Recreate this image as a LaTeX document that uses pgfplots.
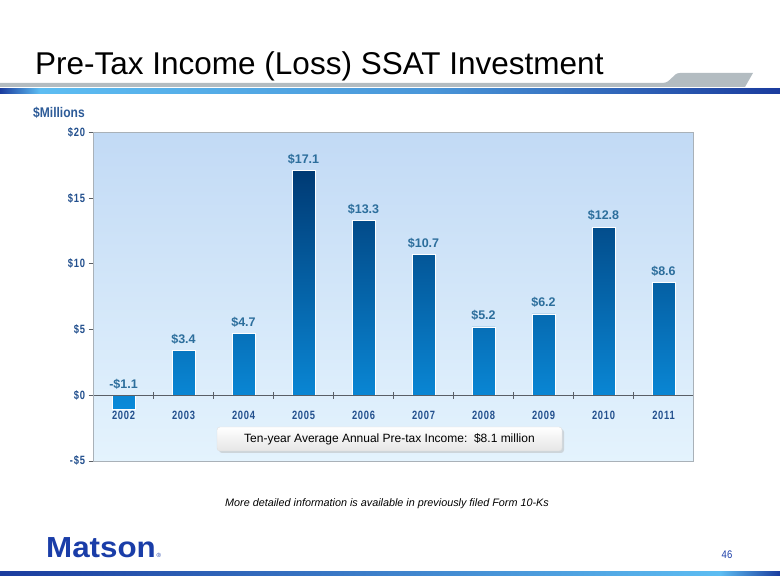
\documentclass[border=0pt]{standalone}
\usepackage{pgfplots}
\pgfplotsset{compat=1.18}
\usetikzlibrary{shadows}
\usepackage{fontspec}
\setmainfont{Liberation Sans}
\newfontfamily\narrowfont[FakeStretch=0.86]{Liberation Sans}
\newfontfamily\tickfont[FakeStretch=0.78, LetterSpace=6]{Liberation Sans}
\newfontfamily\logofont[FakeStretch=1.08]{Liberation Sans}

\definecolor{vallab}{HTML}{2C6E9C}
\definecolor{ticklab}{HTML}{23508E}
\definecolor{millions}{HTML}{2D5B98}
\definecolor{bgtop}{HTML}{C2DAF5}
\definecolor{bgbot}{HTML}{E4F3FD}
\definecolor{bartop}{HTML}{003A74}
\definecolor{barmid}{HTML}{03579B}
\definecolor{barbot}{HTML}{0A8BDA}
\definecolor{framegray}{HTML}{A9B1B8}
\definecolor{axisdark}{HTML}{5A5F66}
\definecolor{headgray}{HTML}{B3BCC1}
\definecolor{bluedark}{HTML}{1B3C9E}
\definecolor{bluelight}{HTML}{5DBDF2}
\definecolor{matsonblue}{HTML}{1A3DA8}

\begin{document}
\begin{tikzpicture}[x=1pt,y=1pt]
\useasboundingbox (0,0) rectangle (780,585);
\fill[white] (0,0) rectangle (780,585);

% header
\node[anchor=base west, inner sep=0pt, font=\fontsize{31.5}{36}\selectfont] at (35,510) {Pre-Tax Income (Loss) SSAT Investment};
\fill[headgray] (0,498) -- (0,502) -- (662,502) .. controls (672,502) and (672,512) .. (680,512) -- (753,512) -- (745,498) -- cycle;
\shade[left color=bluedark, right color=bluelight] (0,491) rectangle (40,496);
\shade[left color=bluelight, right color=bluelight!70!bluedark] (40,491) rectangle (430,496);
\shade[left color=bluelight!70!bluedark, right color=bluedark] (430,491) rectangle (780,496);

\node[anchor=west, inner sep=0pt, text=millions, font=\narrowfont\bfseries\fontsize{14}{16}\selectfont] at (33,472) {\$Millions};

\begin{axis}[
  at={(93.5pt,124pt)}, anchor=south west,
  scale only axis, width=600pt, height=328.5pt,
  xmin=-0.5, xmax=9.5, ymin=-5, ymax=20,
  clip=false, axis on top,
  axis background/.style={top color=bgtop, bottom color=bgbot},
  axis line style={draw=framegray, line width=0.8pt},
  xtick={0,...,9},
  xticklabels={2002,2003,2004,2005,2006,2007,2008,2009,2010,2011},
  xtick style={draw=none},
  xticklabel style={yshift=58pt, text=ticklab, font=\tickfont\bfseries\fontsize{12}{14}\selectfont},
  ytick={-5,0,5,10,15,20},
  yticklabels={-\$5,\$0,\$5,\$10,\$15,\$20},
  ytick pos=left, tick align=outside, major tick length=5pt,
  ytick style={draw=axisdark, line width=0.8pt},
  yticklabel style={text=ticklab, font=\tickfont\bfseries\fontsize{12}{14}\selectfont},
]
\addplot[ybar, bar width=23pt, draw=white, line width=0.6pt,
  top color=bartop, middle color=barmid, bottom color=barbot]
  coordinates {(0,-1.1) (1,3.4) (2,4.7) (3,17.1) (4,13.3) (5,10.7) (6,5.2) (7,6.2) (8,12.8) (9,8.6)};
\addplot[draw=none, mark=none, nodes near coords, point meta=explicit symbolic,
  nodes near coords style={anchor=south, inner sep=0pt, yshift=6pt, text=vallab,
    font=\bfseries\fontsize{12.5}{14}\selectfont}]
  coordinates {(0,0) [-\$1.1] (1,3.4) [\$3.4] (2,4.7) [\$4.7] (3,17.1) [\$17.1] (4,13.3) [\$13.3]
               (5,10.7) [\$10.7] (6,5.2) [\$5.2] (7,6.2) [\$6.2] (8,12.8) [\$12.8] (9,8.6) [\$8.6]};
\draw[axisdark, line width=0.8pt] (axis cs:-0.5,0) -- (axis cs:9.5,0);
\pgfplotsinvokeforeach{0.5,1.5,2.5,3.5,4.5,5.5,6.5,7.5,8.5,9.5}{
  \draw[axisdark, line width=0.8pt] (axis cs:#1,-0.27) -- (axis cs:#1,0.27);}
\draw[axisdark, line width=0.9pt] (rel axis cs:0,0) -- (rel axis cs:0,1);
\end{axis}

% average box
\node[rounded corners=3pt, minimum width=345pt, minimum height=24pt, inner sep=0pt,
  top color=white, bottom color=gray!20, draw=gray!25,
  drop shadow={shadow xshift=2pt, shadow yshift=-2pt, fill=gray!55},
  font=\fontsize{12}{14}\selectfont] at (389.5,146)
  {Ten-year Average Annual Pre-tax Income:\ \ \$8.1 million};

\node[inner sep=0pt, font=\itshape\fontsize{10.8}{13}\selectfont] at (387,81)
  {More detailed information is available in previously filed Form 10-Ks};

% footer
\node[anchor=base west, inner sep=0pt, text=matsonblue, font=\logofont\bfseries\fontsize{29}{32}\selectfont] (logo) at (46,27) {Matson};
\node[anchor=base west, inner sep=0pt, text=matsonblue, font=\fontsize{6}{7}\selectfont] at ([xshift=0.5pt]logo.base east) {®};
\node[anchor=base, inner sep=0pt, text=matsonblue, font=\narrowfont\fontsize{11}{13}\selectfont] at (727,26) {46};
\shade[left color=bluedark, right color=bluelight] (0,9) rectangle (720,13);
\shade[left color=bluelight, right color=bluedark] (720,9) rectangle (780,13);
\end{tikzpicture}
\end{document}
